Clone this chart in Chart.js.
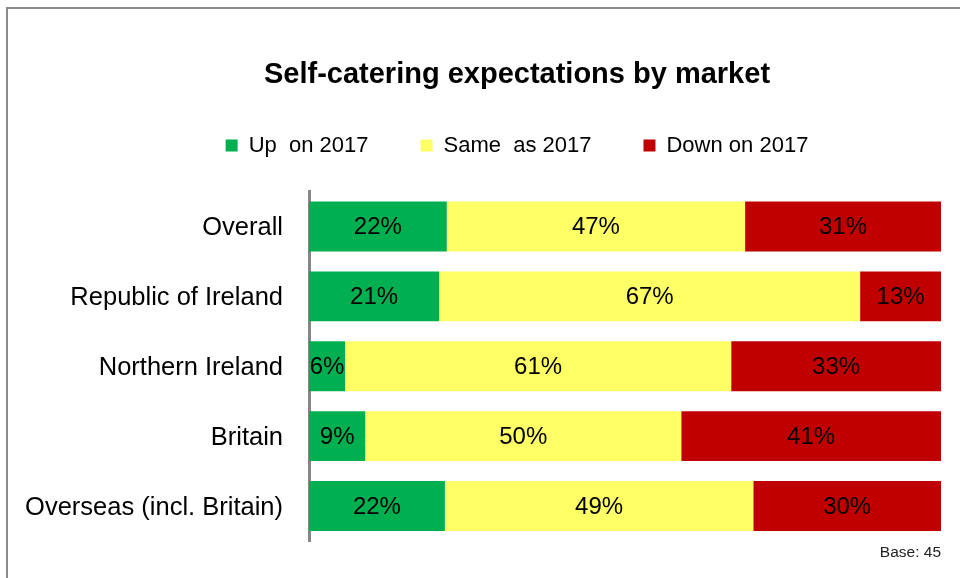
<!DOCTYPE html>
<html>
<head>
<meta charset="utf-8">
<script src="https://cdn.jsdelivr.net/npm/chart.js@4"></script>
<style>
    body { margin: 0; background: #ffffff; overflow: hidden; }
    #frame { position: absolute; left: 6px; top: 7px; width: 1000px; height: 1000px;
             border-top: 2px solid #8c8c8c; border-left: 2px solid #8c8c8c; }
    #wrap { position: absolute; left: 0; top: 0; width: 960px; height: 578px; }
</style>
</head>
<body>
<div id="frame"></div>
<div id="wrap"><canvas id="market_chart"></canvas></div>
<script>
var markets = ['Overall', 'Republic of Ireland', 'Northern Ireland', 'Britain', 'Overseas (incl. Britain)'];
var upOn2017 = [21.8, 20.6, 5.7, 8.9, 21.5];
var sameAs2017 = [47.2, 66.6, 61.1, 50.0, 48.8];
var downOn2017 = [31.0, 12.8, 33.2, 41.1, 29.7];
var seriesNames = ['Up  on 2017', 'Same  as 2017', 'Down on 2017'];
var baseNote = 'Base: 45';

var fontFamily = '"Liberation Sans", Arial, sans-serif';

// percentages written in the middle of every segment
var barLabels = {
    id: 'barLabels',
    afterDatasetsDraw: function (chart) {
        var ctx = chart.ctx;
        ctx.save();
        ctx.font = '24px ' + fontFamily;
        ctx.fillStyle = '#000000';
        ctx.textAlign = 'center';
        ctx.textBaseline = 'middle';
        chart.data.datasets.forEach(function (ds, i) {
            chart.getDatasetMeta(i).data.forEach(function (bar, j) {
                ctx.fillText(Math.round(ds.data[j]) + '%', (bar.x + bar.base) / 2, bar.y + 1);
            });
        });
        ctx.fillStyle = '#222222';
        ctx.font = '15.5px ' + fontFamily;
        ctx.textAlign = 'right';
        ctx.fillText(baseNote, chart.chartArea.right, 553);
        ctx.restore();
    }
};

function displayChart() {
    var chart = document.getElementById('market_chart');
    new Chart(chart, {
        type: 'bar',
        data: {
            labels: markets,
            datasets: [
                { label: seriesNames[0], data: upOn2017, backgroundColor: '#00B050' },
                { label: seriesNames[1], data: sameAs2017, backgroundColor: '#FFFF66' },
                { label: seriesNames[2], data: downOn2017, backgroundColor: '#C00000' }
            ]
        },
        options: {
            indexAxis: 'y',
            responsive: true,
            maintainAspectRatio: false,
            animation: false,
            events: [],
            datasets: {
                bar: { barPercentage: 50 / 70, categoryPercentage: 1, borderWidth: 0 }
            },
            layout: { padding: { left: 93, right: 19, top: 0, bottom: 37 } },
            plugins: {
                title: {
                    display: true,
                    text: 'Self-catering expectations by market',
                    color: '#000000',
                    font: { family: fontFamily, size: 29, weight: 'bold', lineHeight: 0.5 },
                    padding: { top: 68, bottom: 0 }
                },
                legend: {
                    display: true,
                    labels: {
                        color: '#000000',
                        boxWidth: 12,
                        boxHeight: 12,
                        padding: 52,
                        font: { family: fontFamily, size: 22 }
                    }
                },
                tooltip: { enabled: false }
            },
            scales: {
                x: {
                    stacked: true,
                    min: 0,
                    max: 100,
                    position: 'top',
                    ticks: { display: false },
                    grid: { display: false, drawTicks: false },
                    border: { display: false },
                    afterFit: function (scale) { scale.height = 25; }
                },
                y: {
                    stacked: true,
                    ticks: {
                        color: '#000000',
                        padding: 26,
                        labelOffset: 2,
                        font: { family: fontFamily, size: 25.5, lineHeight: 0.8 }
                    },
                    grid: { display: false, drawTicks: false },
                    border: { display: true, color: '#868686', width: 3 },
                    afterFit: function (scale) {
                        // long names run past the narrow axis box, so don't clip them
                        scale.width = 216;
                        scale._computeLabelArea = function () { return null; };
                    }
                }
            }
        },
        plugins: [barLabels]
    });
}
displayChart();
</script>
</body>
</html>
